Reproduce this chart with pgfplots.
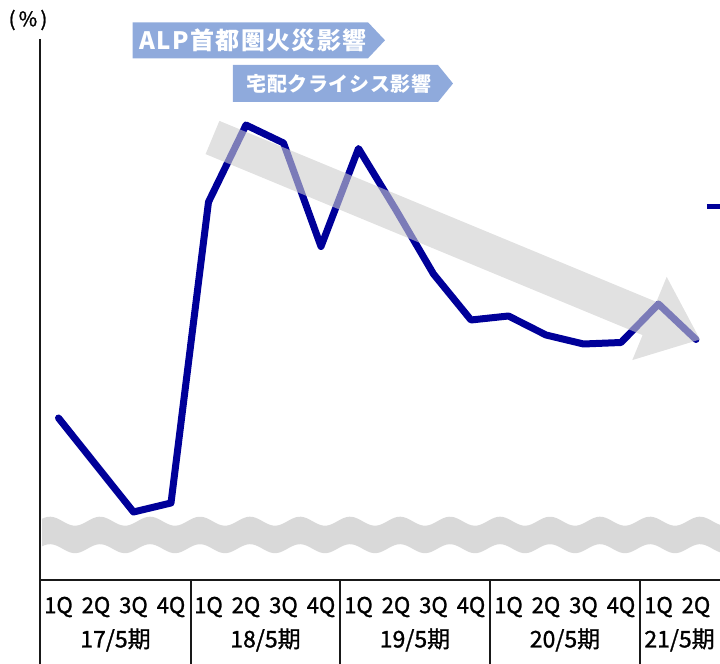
\documentclass[border=0pt]{standalone}
\usepackage{fontspec}
\setmainfont{Noto Sans CJK JP}
\newfontfamily\labelfont{Noto Sans CJK JP}[FakeBold=1.2]
\usepackage{pgfplots}
\pgfplotsset{compat=1.18}

\definecolor{lineblue}{RGB}{0,0,153}
\definecolor{bannerblue}{RGB}{143,170,220}
\definecolor{bandgray}{RGB}{217,217,217}
\definecolor{trendgray}{RGB}{205,205,205}
\definecolor{framegray}{RGB}{25,25,25}

\begin{document}
\begin{tikzpicture}
\path[use as bounding box] (0,0) rectangle (360pt,332pt);

% axis-break band behind the plot
\begin{scope}[x=0.5pt,y=-0.5pt,shift={(0pt,332pt)}]
  \fill[bandgray]
    plot[domain=42:722,samples=240] (\x,{521.2-4.5*cos(7.2*(\x-100))})
    -- plot[domain=722:42,samples=240] (\x,{548.7-4.5*cos(7.2*(\x-100))})
    -- cycle;
\end{scope}

\begin{axis}[
  at={(20pt,42pt)}, anchor=south west,
  width=340pt, height=272.5pt, scale only axis,
  xmin=-0.4933, xmax=17.64, ymin=0, ymax=10.9,
  axis lines=left, axis line style={draw=none},
  ytick=\empty,
  xtick={0,...,17},
  xticklabels={1Q,2Q,3Q,4Q,1Q,2Q,3Q,4Q,1Q,2Q,3Q,4Q,1Q,2Q,3Q,4Q,1Q,2Q},
  major tick length=0pt,
  xticklabel style={anchor=center, yshift=-13.5pt, font=\labelfont\fontsize{11}{13}\selectfont},
  clip=false,
]
\addplot[lineblue, line width=3.5pt, line join=round, line cap=round] coordinates {
  (0,3.24) (1,2.30) (2,1.36) (3,1.54)
  (4,7.56) (5,9.10) (6,8.74) (7,6.67)
  (8,8.63) (9,7.40) (10,6.12) (11,5.20)
  (12,5.28) (13,4.90) (14,4.72) (15,4.75)
  (16,5.52) (17,4.81)
};
\end{axis}

\begin{scope}[x=0.5pt,y=-0.5pt,shift={(0pt,332pt)}]
  % downward trend arrow, translucent over the line
  \fill[trendgray, opacity=0.6]
    (219.4,120.9) -- (656.4,301.9) -- (666.7,276.9) -- (700,339.5)
    -- (632.3,360.1) -- (642.6,335.1) -- (205.6,154.1) -- cycle;

  % event banners
  \fill[bannerblue] (132.7,22.3) -- (368,22.3) -- (385,40.3) -- (368,58.3) -- (132.7,58.3) -- cycle;
  \node[text=white, font=\fontsize{12}{14}\selectfont\bfseries\addfontfeatures{LetterSpace=6}]
    at (253,40.3) {ALP首都圏火災影響};
  \fill[bannerblue] (233,65) -- (438,65) -- (453,83.5) -- (438,102) -- (233,102) -- cycle;
  \node[text=white, font=\fontsize{10}{12}\selectfont\bfseries\addfontfeatures{LetterSpace=3}]
    at (339,83.5) {宅配クライシス影響};

  % unit label
  \node[font=\labelfont\fontsize{10}{12}\selectfont] at (28,20) {(\,\%\,)};

  % frame and period table
  \draw[framegray, line width=1.1pt] (40,39) -- (40,668);
  \draw[framegray, line width=1.1pt] (40,580) -- (724,580);
  \foreach \s in {191,340,490,640}
    \draw[framegray, line width=1.1pt] (\s,580) -- (\s,668);
  \node[font=\labelfont\fontsize{11.5}{13}\selectfont] at (115.5,640) {17/5期};
  \node[font=\labelfont\fontsize{11.5}{13}\selectfont] at (265.5,640) {18/5期};
  \node[font=\labelfont\fontsize{11.5}{13}\selectfont] at (415,640) {19/5期};
  \node[font=\labelfont\fontsize{11.5}{13}\selectfont] at (565,640) {20/5期};
  \node[font=\labelfont\fontsize{11.5}{13}\selectfont, anchor=west, inner sep=0pt] at (644,640) {21/5期};

  % legend sample at the right edge
  \draw[lineblue, line width=2.5pt] (707,207) -- (724,207);
\end{scope}
\end{tikzpicture}
\end{document}
